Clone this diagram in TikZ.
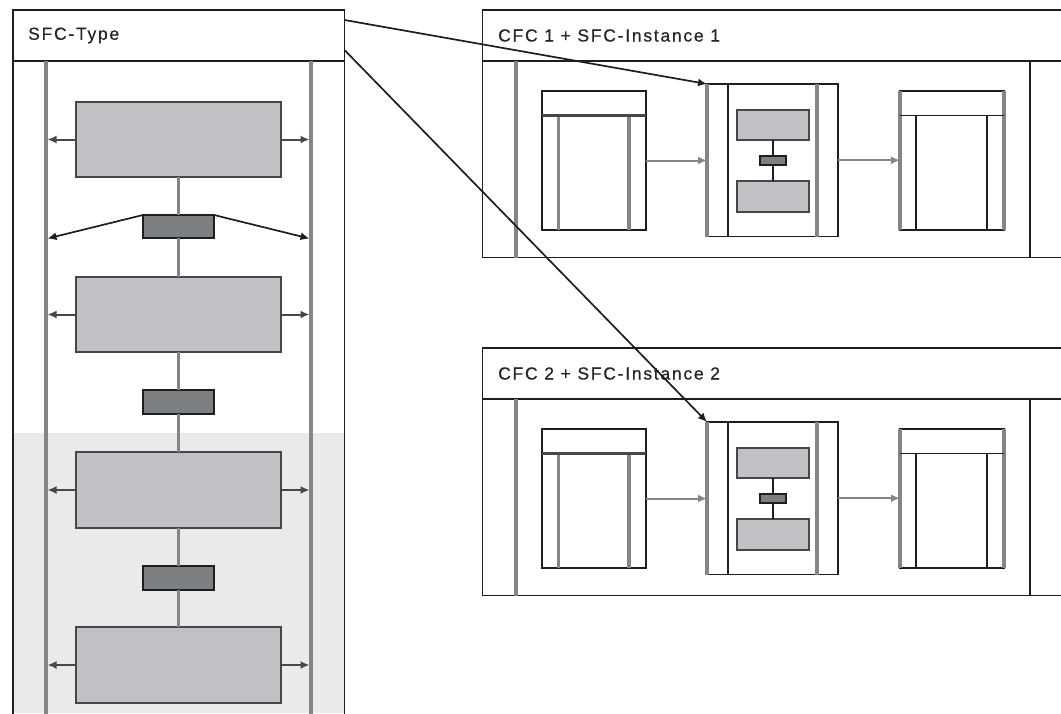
\documentclass[tikz,border=0pt]{standalone}
\usepackage{fontspec}
\setmainfont{Liberation Sans}
\newfontfamily\labfont[LetterSpace=10,FakeBold=0.6]{Liberation Sans}
\usetikzlibrary{arrows.meta}
\definecolor{frame}{HTML}{1E1E1E}
\definecolor{rail}{HTML}{858585}
\definecolor{stepfill}{HTML}{C0C1C4}
\definecolor{stepline}{HTML}{474747}
\definecolor{transfill}{HTML}{7D8083}
\definecolor{lightbg}{HTML}{EAEAEA}
\begin{document}
\begin{tikzpicture}[x=1pt,y=-1pt,
  >={Latex[length=9pt,width=8pt]},
  frameline/.style={draw=frame,line width=1.9pt},
  railline/.style={draw=rail,line width=3.2pt},
  box/.style={rectangle,inner sep=0pt,outer sep=0pt,anchor=north west},
  stepbox/.style={box,draw=stepline,fill=stepfill,line width=2.4pt},
  transbox/.style={box,draw=frame,fill=transfill,line width=1.9pt},
  plainbox/.style={box,draw=frame,fill=white,line width=1.9pt},
  conn/.style={draw=stepline,line width=2.8pt},
  thinconn/.style={draw=frame,line width=1.8pt},
  flow/.style={draw=stepline,line width=2pt,->},
  cross/.style={draw=frame,line width=1.7pt,->},
  title/.style={font=\labfont\fontsize{17.5}{20}\selectfont,anchor=west,inner sep=0pt,text=black!85}]
\useasboundingbox (0,0) rectangle (1061,713);
\fill[white] (0,0) rectangle (1061,713);

% ---------------- left panel: SFC type ----------------
\fill[lightbg] (13,433) rectangle (344.5,713);
\node[box,draw=frame,line width=1.9pt,minimum width=331.5pt,minimum height=51pt] (sfchead) at (13,10) {};
\node[title] (sfctitle) at (28,35.5) {SFC-Type};
\draw[frameline] (sfchead.south west) -- (13,714);
\draw[frameline] (sfchead.south east) -- (344.5,714);
\coordinate (railL) at (46,61);
\coordinate (railR) at (311,61);
\draw[railline] (railL) -- (46,714);
\draw[railline] (railR) -- (311,714);

\node[stepbox,minimum width=205pt,minimum height=75pt] (s1) at (76,102) {};
\node[stepbox,minimum width=205pt,minimum height=75pt] (s2) at (76,277) {};
\node[stepbox,minimum width=205pt,minimum height=76pt] (s3) at (76,452) {};
\node[stepbox,minimum width=205pt,minimum height=76pt] (s4) at (76,627) {};
\node[transbox,minimum width=71pt,minimum height=23pt] (t1) at (143,215) {};
\node[transbox,minimum width=71pt,minimum height=24pt] (t2) at (143,390) {};
\node[transbox,minimum width=71pt,minimum height=24pt] (t3) at (143,566) {};

\draw[conn,draw=rail] (s1.south) -- (t1.north);
\draw[conn,draw=rail] (t1.south) -- (s2.north);
\draw[conn,draw=rail] (s2.south) -- (t2.north);
\draw[conn,draw=rail] (t2.south) -- (s3.north);
\draw[conn,draw=rail] (s3.south) -- (t3.north);
\draw[conn,draw=rail] (t3.south) -- (s4.north);

\foreach \s in {s1,s2,s3,s4}{
  \draw[flow] (\s.west) -- ([xshift=1.5pt]\s.west -| railL);
  \draw[flow] (\s.east) -- ([xshift=-1.5pt]\s.east -| railR);
}
\coordinate (dL) at (47.5,238.5);
\coordinate (dR) at (309.5,238.5);
\draw[cross] (t1.north west) -- (dL);
\draw[cross] (t1.north east) -- (dR);

% ---------------- right panels: CFC + SFC instance ----------------
\foreach \i/\dy in {1/0,2/338}{
\begin{scope}[shift={(0,\dy)}]
  \draw[frameline] (1063,10) -- (482.5,10) -- (482.5,257.5) -- (1063,257.5);
  \draw[frameline] (482.5,61) -- (1063,61);
  \draw[frameline] (1030,61) -- (1030,257.5);
  \draw[railline] (516,61) -- (516,257.5);
  \node[title] (cfc\i) at (498,35.5) {CFC \i{} + SFC-Instance \i};

  % block left
  \node[plainbox,minimum width=104pt,minimum height=139pt] (a\i) at (542,91) {};
  \draw[railline] (558.5,115.5) -- (558.5,230);
  \draw[railline] (629,115.5) -- (629,230);
  \draw[draw=stepline,line width=2.2pt] (542,115.5) -- (646,115.5);

  % SFC instance block
  \node[plainbox,minimum width=131pt,minimum height=152.5pt] (m\i) at (707,84) {};
  \draw[railline] (m\i.north west) -- (m\i.south west);
  \draw[thinconn] (728,84) -- (728,236.5);
  \draw[railline] (817,84) -- (817,236.5);
  \node[stepbox,line width=2pt,minimum width=72pt,minimum height=30pt] (p\i) at (737,110) {};
  \node[stepbox,line width=2pt,minimum width=72pt,minimum height=31pt] (q\i) at (737,181) {};
  \node[transbox,line width=1.6pt,minimum width=26pt,minimum height=9pt] (r\i) at (760,156) {};
  \draw[thinconn] (p\i.south) -- (r\i.north);
  \draw[thinconn] (r\i.south) -- (q\i.north);

  % block right
  \node[plainbox,minimum width=104pt,minimum height=139pt] (c\i) at (900,91) {};
  \draw[railline] (c\i.north west) -- (c\i.south west);
  \draw[railline] (c\i.north east) -- (c\i.south east);
  \draw[thinconn] (900,115.5) -- (1004,115.5);
  \draw[thinconn] (916,115.5) -- (916,230);
  \draw[thinconn] (987,115.5) -- (987,230);

  \draw[flow,draw=rail] (a\i.east) -- (a\i.east -| m\i.west);
  \draw[flow,draw=rail] (m\i.east) -- (m\i.east -| c\i.west);
\end{scope}
}

% ---------------- type to instance arrows ----------------
\coordinate (o1) at (344.5,20);
\coordinate (o2) at (344.5,50);
\draw[cross] (o1) -- (m1.north west);
\draw[cross] (o2) -- (m2.north west);
\end{tikzpicture}
\end{document}
